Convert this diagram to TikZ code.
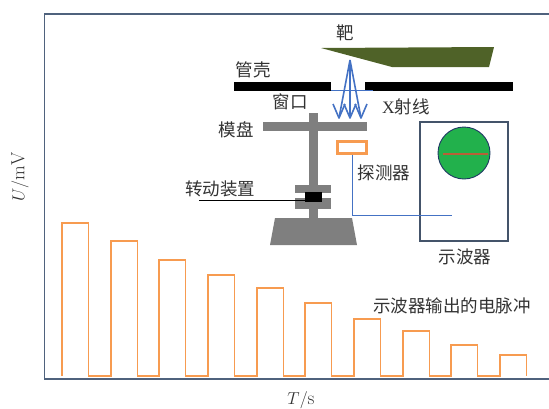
\documentclass[tikz,border=0pt]{standalone}
\usepackage{fontspec}
\newfontfamily\cjk{Noto Sans CJK SC}
\newfontfamily\latinserif{Liberation Serif}
\definecolor{framec}{RGB}{79,98,125}
\definecolor{pulsec}{RGB}{247,155,80}
\definecolor{targetc}{RGB}{79,98,40}
\definecolor{metalc}{RGB}{127,127,127}
\definecolor{rayc}{RGB}{68,114,196}
\definecolor{oscc}{RGB}{68,84,106}
\definecolor{screenc}{RGB}{34,177,76}
\definecolor{screenedge}{RGB}{31,56,100}
\definecolor{beamtrace}{RGB}{185,95,55}
\definecolor{textc}{RGB}{50,50,50}
\begin{document}
\begin{tikzpicture}[x=1pt,y=-1pt,
  lbl/.style={text=textc,font=\cjk\fontsize{17.5}{17.5}\selectfont,inner sep=0pt},
  axislbl/.style={text=textc,font=\fontsize{19}{19}\selectfont,inner sep=0pt},
  framepen/.style={draw=framec,line width=1.4pt},
  pulse/.style={draw=pulsec,line width=1.3pt,line join=miter},
  metal/.style={fill=metalc},
  ray/.style={draw=rayc,line width=1.6pt,line join=round},
  detbox/.style={draw=pulsec,line width=2.2pt,minimum width=29pt,minimum height=12pt,inner sep=0pt},
  oscbox/.style={draw=oscc,line width=1.4pt,minimum width=88pt,minimum height=119pt,inner sep=0pt},
  wire/.style={draw=rayc,line width=0.9pt}]
\useasboundingbox (0,0) rectangle (549,408);

% plot frame (open on the right)
\draw[framepen] (549,14) -- (44.5,14) -- (44.5,379) -- (549,379);

% pulse train
\draw[pulse] (62,376)
  \foreach \l/\t in {62/223,111/241,159/260,208/275,257/288,305/303,354/319,403/331,451/345,500/355}
  { -- (\l,376) -- (\l,\t) -- (\l+26.5,\t) -- (\l+26.5,376) };

% target
\fill[targetc] (321,48) -- (494,47) -- (489,67) -- (392,67) -- cycle;

% tube housing with window
\fill[black] (234,82) rectangle (331,91);
\fill[black] (365,82) rectangle (513,91);
\fill[rayc] (331,89.5) rectangle (373,90.7);

% X-ray beams
\coordinate (src) at (350,60);
\foreach \t in {339,350,361}{
  \draw[ray] (src) -- (\t,118);
  \draw[ray] (\t-6,104) -- (\t,118) -- (\t+6,104);
}

% mould plate, shaft, drive and base
\fill[metal] (309,113) rectangle (318,220);
\fill[metal] (263,122) rectangle (367,131);
\fill[metal] (295,185) rectangle (331,193);
\fill[metal] (295,198) rectangle (331,209);
\node[fill=black,minimum width=17pt,minimum height=10pt,inner sep=0pt] (drive) at (313.5,197) {};
\fill[metal] (275,218) -- (352,218) -- (357,245) -- (270,245) -- cycle;
\coordinate (driveL) at (199,200);
\draw[black,line width=0.9pt] (driveL) -- (driveL -| drive.west);

% detector and oscilloscope
\node[detbox] (det) at (352,147.5) {};
\node[oscbox] (osc) at (464,181.5) {};
\node[circle,fill=screenc,draw=screenedge,line width=0.9pt,minimum size=52pt,inner sep=0pt] (screen) at (464,153) {};
\fill[beamtrace] (442.5,152.5) rectangle (487.5,154.5);
\coordinate (probe) at (452,215);
\draw[wire] (det.south) |- (probe);

% labels
\node[lbl] (lt) at (345,33) {靶};
\node[lbl] (lh) at (253,70) {管壳};
\node[lbl] (lw) at (290,102) {窗口};
\node[lbl] (lx) at (406,107) {{\latinserif X}射线};
\node[lbl] (lm) at (236,130) {模盘};
\node[lbl] (ld) at (384,173) {探测器};
\node[lbl] (lr) at (220,189) {转动装置};
\node[lbl] (lo) at (465,257) {示波器};
\node[lbl] (lp) at (452,306) {示波器输出的电脉冲};
\node[axislbl,rotate=90] (ly) at (20,177) {$U/\mathrm{mV}$};
\node[axislbl] (lxax) at (301,400) {$T/\mathrm{s}$};
\end{tikzpicture}
\end{document}
